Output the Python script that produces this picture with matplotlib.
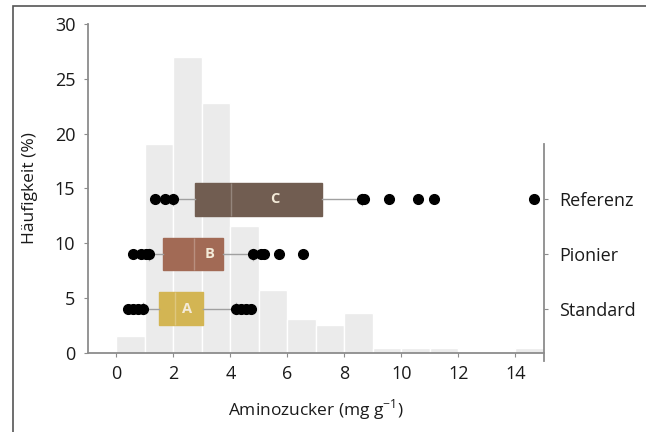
import matplotlib
matplotlib.use("Agg")
import matplotlib.pyplot as plt
from matplotlib.patches import Rectangle

plt.rcParams['font.family'] = ['Open Sans', 'DejaVu Sans']

# histogram of all samples (bins of 1 mg/g)
bin_left = [0, 1, 2, 3, 4, 5, 6, 7, 8, 9, 10, 11, 12, 13, 14]
freq = [1.5, 19.0, 27.0, 22.8, 11.6, 5.7, 3.1, 2.5, 3.6, 0.4, 0.4, 0.4, 0.0, 0.0, 0.4]

# box plots per site
sites = ['Standard', 'Pionier', 'Referenz']
letters = ['A', 'B', 'C']
colors = ['#d3b553', '#a26a55', '#715d51']
q1 = [1.51, 1.65, 2.77]
med = [2.04, 2.74, 4.02]
q3 = [3.05, 3.73, 7.23]
whis_lo = [0.93, 1.14, 2.0]
whis_hi = [4.2, 4.78, 8.6]
fliers = [
    [0.41, 0.58, 0.76, 0.93, 4.2, 4.37, 4.55, 4.72],
    [0.58, 0.87, 1.05, 1.14, 4.78, 5.07, 5.19, 5.71, 6.55],
    [1.37, 1.69, 1.97, 8.6, 8.7, 9.56, 10.57, 11.14, 14.66],
]
letter_x = [2.47, 3.26, 5.57]

fig = plt.figure(figsize=(6.46, 4.32), dpi=100)
ax = fig.add_axes([0.136, 0.1836, 0.706, 0.761])

ax.bar(bin_left, freq, width=1, align='edge', color='#ebebeb', edgecolor='white', linewidth=1)
ax.set_xlim(-1, 15)
ax.set_ylim(0, 30)
ax.set_xticks(range(0, 15, 2))
ax.set_yticks(range(0, 31, 5))
for s in ['top', 'right']:
    ax.spines[s].set_visible(False)
for s in ['left', 'bottom']:
    ax.spines[s].set_color('#8c8c8c')
    ax.spines[s].set_linewidth(1.3)
ax.tick_params(direction='out', length=3, color='#8c8c8c', labelsize=13, pad=6, labelcolor='#1a1a1a')
ax.set_xlabel('Aminozucker (mg g$^{\\mathregular{-1}}$)', fontsize=12.5, color='#1a1a1a', labelpad=10)
ax.set_ylabel('Häufigkeit (%)', fontsize=12.5, color='#1a1a1a', labelpad=12)

ax2 = ax.twinx()
ax2.set_ylim(0, 30)
pos = [4, 9, 14]
stats = []
for i in range(3):
    stats.append(dict(med=med[i], q1=q1[i], q3=q3[i], whislo=whis_lo[i], whishi=whis_hi[i], fliers=fliers[i]))
bp = ax2.bxp(stats, positions=pos, widths=3, orientation='horizontal', patch_artist=True,
             capwidths=1.0,
             boxprops=dict(linewidth=1),
             whiskerprops=dict(color='#a0a0a0', linewidth=1),
             capprops=dict(color='#a0a0a0', linewidth=1),
             medianprops=dict(color='white', alpha=0.25, linewidth=1),
             flierprops=dict(marker='o', markerfacecolor='black', markeredgecolor='black', markersize=7))
for patch, c in zip(bp['boxes'], colors):
    patch.set_facecolor(c)
    patch.set_edgecolor(c)
for x, y, t in zip(letter_x, pos, letters):
    ax2.text(x, y, t, ha='center', va='center', color='#f3ead8', fontsize=10.5, fontweight='bold')

ax2.set_xlim(-1, 15)
ax2.set_yticks(pos)
ax2.set_yticklabels(sites)
for s in ['top', 'left', 'bottom']:
    ax2.spines[s].set_visible(False)
ax2.spines['right'].set_bounds(-0.8, 19)
ax2.spines['right'].set_color('#8c8c8c')
ax2.spines['right'].set_linewidth(1.3)
ax2.tick_params(axis='y', direction='out', length=3, color='#8c8c8c', labelsize=13, pad=8, labelcolor='#1a1a1a')

fig.patches.append(Rectangle((13 / 646, -0.1), 2, 1 - 5.7 / 432 + 0.1, transform=fig.transFigure,
                             fill=False, edgecolor='#555555', linewidth=1.2))

fig.savefig('out.png', dpi=100)
